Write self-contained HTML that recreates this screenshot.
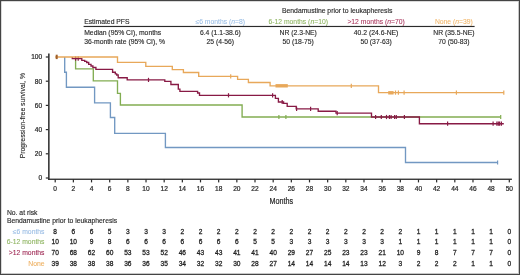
<!DOCTYPE html>
<html><head><meta charset="utf-8"><style>
html,body{margin:0;padding:0;background:#fff;}
body{width:520px;height:275px;overflow:hidden;position:relative;}
svg{position:absolute;left:0;top:0;font-family:"Liberation Sans",sans-serif;will-change:transform;}
svg{color:#2b2b2b;}
text{fill:currentColor;stroke:currentColor;stroke-width:0.14px;}
</style></head><body>
<svg width="520" height="275" viewBox="0 0 520 275">
<rect x="0" y="0" width="520" height="275" fill="#fff"/>
<text x="337.2" y="12.5" text-anchor="middle" font-size="6.8">Bendamustine prior to leukapheresis</text>
<text x="220.3" y="23.6" text-anchor="middle" font-size="6.8" style="color:#98bce4;stroke-width:0.06px">≤6 months (<tspan font-style="italic">n</tspan>=8)</text>
<text x="298.2" y="23.6" text-anchor="middle" font-size="6.8" style="color:#8cb35e;stroke-width:0.06px">6-12 months (<tspan font-style="italic">n</tspan>=10)</text>
<text x="376.1" y="23.6" text-anchor="middle" font-size="6.8" style="color:#a8325a;stroke-width:0.06px">&gt;12 months (<tspan font-style="italic">n</tspan>=70)</text>
<text x="453.9" y="23.6" text-anchor="middle" font-size="6.8" style="color:#f0b466;stroke-width:0.06px">None (<tspan font-style="italic">n</tspan>=39)</text>
<text x="84.2" y="23.6" font-size="6.8">Estimated PFS</text>
<rect x="83.6" y="25.9" width="391" height="1.15" fill="#2b2b2b"/>
<text x="84.2" y="35.3" font-size="6.8">Median (95% CI), months</text>
<text x="84.2" y="44.4" font-size="6.8">36-month rate (95% CI), %</text>
<text x="220.3" y="35.3" text-anchor="middle" font-size="6.8">6.4 (1.1-38.6)</text>
<text x="220.3" y="44.4" text-anchor="middle" font-size="6.8">25 (4-56)</text>
<text x="298.2" y="35.3" text-anchor="middle" font-size="6.8">NR (2.3-NE)</text>
<text x="298.2" y="44.4" text-anchor="middle" font-size="6.8">50 (18-75)</text>
<text x="376.1" y="35.3" text-anchor="middle" font-size="6.8">40.2 (24.6-NE)</text>
<text x="376.1" y="44.4" text-anchor="middle" font-size="6.8">50 (37-63)</text>
<text x="453.9" y="35.3" text-anchor="middle" font-size="6.8">NR (35.5-NE)</text>
<text x="453.9" y="44.4" text-anchor="middle" font-size="6.8">70 (50-83)</text>
<path d="M64.7,57.00 H64.70 V72.20 H66.40 V87.20 H94.60 V102.80 H110.40 V117.50 H114.70 V133.30 H165.40 V147.50 H405.50 V162.50 H497.6" fill="none" stroke="#7298c2" stroke-width="1.35"/>
<line x1="497.60" y1="160.40" x2="497.60" y2="164.60" stroke="#7298c2" stroke-width="1.2"/>
<path d="M75.6,57.00 H75.60 V68.80 H93.30 V80.80 H117.50 V93.30 H120.40 V105.00 H242.10 V117.00 H500.7" fill="none" stroke="#82ad52" stroke-width="1.35"/>
<line x1="278.90" y1="114.90" x2="278.90" y2="119.10" stroke="#82ad52" stroke-width="1.2"/>
<line x1="285.90" y1="114.90" x2="285.90" y2="119.10" stroke="#82ad52" stroke-width="1.2"/>
<line x1="500.70" y1="114.90" x2="500.70" y2="119.10" stroke="#82ad52" stroke-width="1.2"/>
<path d="M72.3,57.00 H72.30 V58.60 H81.80 V60.30 H84.70 V61.30 H86.70 V62.50 H88.70 V64.40 H91.00 V66.00 H92.90 V67.50 H95.90 V69.30 H112.60 V72.20 H115.30 V73.80 H116.70 V75.00 H118.20 V77.70 H127.20 V79.90 H164.80 V81.40 H170.90 V84.50 H178.30 V89.10 H179.90 V91.30 H197.60 V93.00 H199.50 V95.30 H275.40 V98.40 H278.40 V102.00 H283.60 V103.40 H287.20 V106.40 H296.20 V108.90 H318.20 V111.20 H336.00 V113.10 H371.50 V117.00 H419.40 V123.70 H503.8" fill="none" stroke="#881a45" stroke-width="1.35"/>
<line x1="75.60" y1="56.50" x2="75.60" y2="60.70" stroke="#881a45" stroke-width="1.2"/>
<line x1="78.20" y1="56.50" x2="78.20" y2="60.70" stroke="#881a45" stroke-width="1.2"/>
<line x1="148.50" y1="77.80" x2="148.50" y2="82.00" stroke="#881a45" stroke-width="1.2"/>
<line x1="228.50" y1="93.20" x2="228.50" y2="97.40" stroke="#881a45" stroke-width="1.2"/>
<line x1="272.60" y1="93.20" x2="272.60" y2="97.40" stroke="#881a45" stroke-width="1.2"/>
<line x1="282.20" y1="99.90" x2="282.20" y2="104.10" stroke="#881a45" stroke-width="1.2"/>
<line x1="296.60" y1="106.80" x2="296.60" y2="111.00" stroke="#881a45" stroke-width="1.2"/>
<line x1="310.60" y1="106.80" x2="310.60" y2="111.00" stroke="#881a45" stroke-width="1.2"/>
<line x1="337.20" y1="111.00" x2="337.20" y2="115.20" stroke="#881a45" stroke-width="1.2"/>
<line x1="375.60" y1="114.90" x2="375.60" y2="119.10" stroke="#881a45" stroke-width="1.2"/>
<line x1="381.30" y1="114.90" x2="381.30" y2="119.10" stroke="#881a45" stroke-width="1.2"/>
<line x1="386.50" y1="114.90" x2="386.50" y2="119.10" stroke="#881a45" stroke-width="1.2"/>
<line x1="389.40" y1="114.90" x2="389.40" y2="119.10" stroke="#881a45" stroke-width="1.2"/>
<line x1="391.10" y1="114.90" x2="391.10" y2="119.10" stroke="#881a45" stroke-width="1.2"/>
<line x1="394.60" y1="114.90" x2="394.60" y2="119.10" stroke="#881a45" stroke-width="1.2"/>
<line x1="396.30" y1="114.90" x2="396.30" y2="119.10" stroke="#881a45" stroke-width="1.2"/>
<line x1="404.40" y1="114.90" x2="404.40" y2="119.10" stroke="#881a45" stroke-width="1.2"/>
<line x1="447.60" y1="121.60" x2="447.60" y2="125.80" stroke="#881a45" stroke-width="1.2"/>
<line x1="493.10" y1="121.60" x2="493.10" y2="125.80" stroke="#881a45" stroke-width="1.2"/>
<line x1="496.90" y1="121.60" x2="496.90" y2="125.80" stroke="#881a45" stroke-width="1.2"/>
<line x1="498.30" y1="121.60" x2="498.30" y2="125.80" stroke="#881a45" stroke-width="1.2"/>
<line x1="499.60" y1="121.60" x2="499.60" y2="125.80" stroke="#881a45" stroke-width="1.2"/>
<line x1="501.40" y1="121.60" x2="501.40" y2="125.80" stroke="#881a45" stroke-width="1.2"/>
<path d="M55.2,57.00 H117.50 V62.30 H145.80 V66.40 H172.30 V69.60 H183.40 V72.50 H198.70 V76.40 H237.60 V79.30 H248.40 V82.50 H270.10 V85.80 H378.50 V92.60 H503.8" fill="none" stroke="#e8a85a" stroke-width="1.35"/>
<line x1="230.70" y1="74.30" x2="230.70" y2="78.50" stroke="#e8a85a" stroke-width="1.2"/>
<line x1="351.30" y1="83.70" x2="351.30" y2="87.90" stroke="#e8a85a" stroke-width="1.2"/>
<line x1="395.50" y1="90.50" x2="395.50" y2="94.70" stroke="#e8a85a" stroke-width="1.2"/>
<line x1="398.40" y1="90.50" x2="398.40" y2="94.70" stroke="#e8a85a" stroke-width="1.2"/>
<line x1="404.10" y1="90.50" x2="404.10" y2="94.70" stroke="#e8a85a" stroke-width="1.2"/>
<line x1="456.40" y1="90.50" x2="456.40" y2="94.70" stroke="#e8a85a" stroke-width="1.2"/>
<line x1="503.80" y1="90.50" x2="503.80" y2="94.70" stroke="#e8a85a" stroke-width="1.2"/>
<rect x="275.5" y="84.1" width="12.3" height="3.4" fill="#e8a85a"/>
<rect x="388.2" y="91.1" width="5.4" height="3.4" fill="#e8a85a"/>
<rect x="55.7" y="54.7" width="2" height="4.4" fill="#a0602a"/>
<rect x="48.1" y="53.5" width="1.5" height="126.4" fill="#2b2b2b"/>
<rect x="48.1" y="178.6" width="463.8" height="1.3" fill="#2b2b2b"/>
<rect x="45.8" y="177.40" width="2.5" height="1.2" fill="#2b2b2b"/>
<text x="42.2" y="180.40" text-anchor="end" font-size="6.6" style="stroke-width:0.22px">0</text>
<rect x="45.8" y="153.20" width="2.5" height="1.2" fill="#2b2b2b"/>
<text x="42.2" y="156.20" text-anchor="end" font-size="6.6" style="stroke-width:0.22px">20</text>
<rect x="45.8" y="129.00" width="2.5" height="1.2" fill="#2b2b2b"/>
<text x="42.2" y="132.00" text-anchor="end" font-size="6.6" style="stroke-width:0.22px">40</text>
<rect x="45.8" y="104.80" width="2.5" height="1.2" fill="#2b2b2b"/>
<text x="42.2" y="107.80" text-anchor="end" font-size="6.6" style="stroke-width:0.22px">60</text>
<rect x="45.8" y="80.60" width="2.5" height="1.2" fill="#2b2b2b"/>
<text x="42.2" y="83.60" text-anchor="end" font-size="6.6" style="stroke-width:0.22px">80</text>
<rect x="45.8" y="56.40" width="2.5" height="1.2" fill="#2b2b2b"/>
<text x="42.2" y="59.40" text-anchor="end" font-size="6.6" style="stroke-width:0.22px">100</text>
<rect x="54.60" y="179.4" width="1.2" height="3.0" fill="#2b2b2b"/>
<text x="55.20" y="190.9" text-anchor="middle" font-size="6.6" style="stroke-width:0.22px">0</text>
<rect x="72.76" y="179.4" width="1.2" height="3.0" fill="#2b2b2b"/>
<text x="73.36" y="190.9" text-anchor="middle" font-size="6.6" style="stroke-width:0.22px">2</text>
<rect x="90.93" y="179.4" width="1.2" height="3.0" fill="#2b2b2b"/>
<text x="91.53" y="190.9" text-anchor="middle" font-size="6.6" style="stroke-width:0.22px">4</text>
<rect x="109.09" y="179.4" width="1.2" height="3.0" fill="#2b2b2b"/>
<text x="109.69" y="190.9" text-anchor="middle" font-size="6.6" style="stroke-width:0.22px">6</text>
<rect x="127.26" y="179.4" width="1.2" height="3.0" fill="#2b2b2b"/>
<text x="127.86" y="190.9" text-anchor="middle" font-size="6.6" style="stroke-width:0.22px">8</text>
<rect x="145.42" y="179.4" width="1.2" height="3.0" fill="#2b2b2b"/>
<text x="146.02" y="190.9" text-anchor="middle" font-size="6.6" style="stroke-width:0.22px">10</text>
<rect x="163.58" y="179.4" width="1.2" height="3.0" fill="#2b2b2b"/>
<text x="164.18" y="190.9" text-anchor="middle" font-size="6.6" style="stroke-width:0.22px">12</text>
<rect x="181.75" y="179.4" width="1.2" height="3.0" fill="#2b2b2b"/>
<text x="182.35" y="190.9" text-anchor="middle" font-size="6.6" style="stroke-width:0.22px">14</text>
<rect x="199.91" y="179.4" width="1.2" height="3.0" fill="#2b2b2b"/>
<text x="200.51" y="190.9" text-anchor="middle" font-size="6.6" style="stroke-width:0.22px">16</text>
<rect x="218.08" y="179.4" width="1.2" height="3.0" fill="#2b2b2b"/>
<text x="218.68" y="190.9" text-anchor="middle" font-size="6.6" style="stroke-width:0.22px">18</text>
<rect x="236.24" y="179.4" width="1.2" height="3.0" fill="#2b2b2b"/>
<text x="236.84" y="190.9" text-anchor="middle" font-size="6.6" style="stroke-width:0.22px">20</text>
<rect x="254.40" y="179.4" width="1.2" height="3.0" fill="#2b2b2b"/>
<text x="255.00" y="190.9" text-anchor="middle" font-size="6.6" style="stroke-width:0.22px">22</text>
<rect x="272.57" y="179.4" width="1.2" height="3.0" fill="#2b2b2b"/>
<text x="273.17" y="190.9" text-anchor="middle" font-size="6.6" style="stroke-width:0.22px">24</text>
<rect x="290.73" y="179.4" width="1.2" height="3.0" fill="#2b2b2b"/>
<text x="291.33" y="190.9" text-anchor="middle" font-size="6.6" style="stroke-width:0.22px">26</text>
<rect x="308.90" y="179.4" width="1.2" height="3.0" fill="#2b2b2b"/>
<text x="309.50" y="190.9" text-anchor="middle" font-size="6.6" style="stroke-width:0.22px">28</text>
<rect x="327.06" y="179.4" width="1.2" height="3.0" fill="#2b2b2b"/>
<text x="327.66" y="190.9" text-anchor="middle" font-size="6.6" style="stroke-width:0.22px">30</text>
<rect x="345.22" y="179.4" width="1.2" height="3.0" fill="#2b2b2b"/>
<text x="345.82" y="190.9" text-anchor="middle" font-size="6.6" style="stroke-width:0.22px">32</text>
<rect x="363.39" y="179.4" width="1.2" height="3.0" fill="#2b2b2b"/>
<text x="363.99" y="190.9" text-anchor="middle" font-size="6.6" style="stroke-width:0.22px">34</text>
<rect x="381.55" y="179.4" width="1.2" height="3.0" fill="#2b2b2b"/>
<text x="382.15" y="190.9" text-anchor="middle" font-size="6.6" style="stroke-width:0.22px">36</text>
<rect x="399.72" y="179.4" width="1.2" height="3.0" fill="#2b2b2b"/>
<text x="400.32" y="190.9" text-anchor="middle" font-size="6.6" style="stroke-width:0.22px">38</text>
<rect x="417.88" y="179.4" width="1.2" height="3.0" fill="#2b2b2b"/>
<text x="418.48" y="190.9" text-anchor="middle" font-size="6.6" style="stroke-width:0.22px">40</text>
<rect x="436.04" y="179.4" width="1.2" height="3.0" fill="#2b2b2b"/>
<text x="436.64" y="190.9" text-anchor="middle" font-size="6.6" style="stroke-width:0.22px">42</text>
<rect x="454.21" y="179.4" width="1.2" height="3.0" fill="#2b2b2b"/>
<text x="454.81" y="190.9" text-anchor="middle" font-size="6.6" style="stroke-width:0.22px">44</text>
<rect x="472.37" y="179.4" width="1.2" height="3.0" fill="#2b2b2b"/>
<text x="472.97" y="190.9" text-anchor="middle" font-size="6.6" style="stroke-width:0.22px">46</text>
<rect x="490.54" y="179.4" width="1.2" height="3.0" fill="#2b2b2b"/>
<text x="491.14" y="190.9" text-anchor="middle" font-size="6.6" style="stroke-width:0.22px">48</text>
<rect x="508.70" y="179.4" width="1.2" height="3.0" fill="#2b2b2b"/>
<text x="509.30" y="190.9" text-anchor="middle" font-size="6.6" style="stroke-width:0.22px">50</text>
<text x="281.2" y="203.6" text-anchor="middle" font-size="8.4" textLength="23.6" lengthAdjust="spacingAndGlyphs" style="stroke-width:0.22px">Months</text>
<text transform="translate(25.1,115.6) rotate(-90)" text-anchor="middle" font-size="7.6" textLength="85.5" lengthAdjust="spacingAndGlyphs">Progression-free survival, %</text>
<text x="6.9" y="214.7" font-size="6.8">No. at risk</text>
<text x="6.9" y="223.0" font-size="6.8">Bendamustine prior to leukapheresis</text>
<text x="44.5" y="233.6" text-anchor="end" font-size="6.8" style="color:#98bce4;stroke-width:0.08px">≤6 months</text>
<text x="55.20" y="233.6" text-anchor="middle" font-size="6.6" style="stroke-width:0.26px;color:#1e1e1e">8</text>
<text x="73.36" y="233.6" text-anchor="middle" font-size="6.6" style="stroke-width:0.26px;color:#1e1e1e">6</text>
<text x="91.53" y="233.6" text-anchor="middle" font-size="6.6" style="stroke-width:0.26px;color:#1e1e1e">6</text>
<text x="109.69" y="233.6" text-anchor="middle" font-size="6.6" style="stroke-width:0.26px;color:#1e1e1e">5</text>
<text x="127.86" y="233.6" text-anchor="middle" font-size="6.6" style="stroke-width:0.26px;color:#1e1e1e">3</text>
<text x="146.02" y="233.6" text-anchor="middle" font-size="6.6" style="stroke-width:0.26px;color:#1e1e1e">3</text>
<text x="164.18" y="233.6" text-anchor="middle" font-size="6.6" style="stroke-width:0.26px;color:#1e1e1e">3</text>
<text x="182.35" y="233.6" text-anchor="middle" font-size="6.6" style="stroke-width:0.26px;color:#1e1e1e">2</text>
<text x="200.51" y="233.6" text-anchor="middle" font-size="6.6" style="stroke-width:0.26px;color:#1e1e1e">2</text>
<text x="218.68" y="233.6" text-anchor="middle" font-size="6.6" style="stroke-width:0.26px;color:#1e1e1e">2</text>
<text x="236.84" y="233.6" text-anchor="middle" font-size="6.6" style="stroke-width:0.26px;color:#1e1e1e">2</text>
<text x="255.00" y="233.6" text-anchor="middle" font-size="6.6" style="stroke-width:0.26px;color:#1e1e1e">2</text>
<text x="273.17" y="233.6" text-anchor="middle" font-size="6.6" style="stroke-width:0.26px;color:#1e1e1e">2</text>
<text x="291.33" y="233.6" text-anchor="middle" font-size="6.6" style="stroke-width:0.26px;color:#1e1e1e">2</text>
<text x="309.50" y="233.6" text-anchor="middle" font-size="6.6" style="stroke-width:0.26px;color:#1e1e1e">2</text>
<text x="327.66" y="233.6" text-anchor="middle" font-size="6.6" style="stroke-width:0.26px;color:#1e1e1e">2</text>
<text x="345.82" y="233.6" text-anchor="middle" font-size="6.6" style="stroke-width:0.26px;color:#1e1e1e">2</text>
<text x="363.99" y="233.6" text-anchor="middle" font-size="6.6" style="stroke-width:0.26px;color:#1e1e1e">2</text>
<text x="382.15" y="233.6" text-anchor="middle" font-size="6.6" style="stroke-width:0.26px;color:#1e1e1e">2</text>
<text x="400.32" y="233.6" text-anchor="middle" font-size="6.6" style="stroke-width:0.26px;color:#1e1e1e">2</text>
<text x="418.48" y="233.6" text-anchor="middle" font-size="6.6" style="stroke-width:0.26px;color:#1e1e1e">1</text>
<text x="436.64" y="233.6" text-anchor="middle" font-size="6.6" style="stroke-width:0.26px;color:#1e1e1e">1</text>
<text x="454.81" y="233.6" text-anchor="middle" font-size="6.6" style="stroke-width:0.26px;color:#1e1e1e">1</text>
<text x="472.97" y="233.6" text-anchor="middle" font-size="6.6" style="stroke-width:0.26px;color:#1e1e1e">1</text>
<text x="491.14" y="233.6" text-anchor="middle" font-size="6.6" style="stroke-width:0.26px;color:#1e1e1e">1</text>
<text x="509.30" y="233.6" text-anchor="middle" font-size="6.6" style="stroke-width:0.26px;color:#1e1e1e">0</text>
<text x="44.5" y="244.1" text-anchor="end" font-size="6.8" style="color:#8cb35e;stroke-width:0.08px">6-12 months</text>
<text x="55.20" y="244.1" text-anchor="middle" font-size="6.6" style="stroke-width:0.26px;color:#1e1e1e">10</text>
<text x="73.36" y="244.1" text-anchor="middle" font-size="6.6" style="stroke-width:0.26px;color:#1e1e1e">10</text>
<text x="91.53" y="244.1" text-anchor="middle" font-size="6.6" style="stroke-width:0.26px;color:#1e1e1e">9</text>
<text x="109.69" y="244.1" text-anchor="middle" font-size="6.6" style="stroke-width:0.26px;color:#1e1e1e">8</text>
<text x="127.86" y="244.1" text-anchor="middle" font-size="6.6" style="stroke-width:0.26px;color:#1e1e1e">6</text>
<text x="146.02" y="244.1" text-anchor="middle" font-size="6.6" style="stroke-width:0.26px;color:#1e1e1e">6</text>
<text x="164.18" y="244.1" text-anchor="middle" font-size="6.6" style="stroke-width:0.26px;color:#1e1e1e">6</text>
<text x="182.35" y="244.1" text-anchor="middle" font-size="6.6" style="stroke-width:0.26px;color:#1e1e1e">6</text>
<text x="200.51" y="244.1" text-anchor="middle" font-size="6.6" style="stroke-width:0.26px;color:#1e1e1e">6</text>
<text x="218.68" y="244.1" text-anchor="middle" font-size="6.6" style="stroke-width:0.26px;color:#1e1e1e">6</text>
<text x="236.84" y="244.1" text-anchor="middle" font-size="6.6" style="stroke-width:0.26px;color:#1e1e1e">6</text>
<text x="255.00" y="244.1" text-anchor="middle" font-size="6.6" style="stroke-width:0.26px;color:#1e1e1e">5</text>
<text x="273.17" y="244.1" text-anchor="middle" font-size="6.6" style="stroke-width:0.26px;color:#1e1e1e">5</text>
<text x="291.33" y="244.1" text-anchor="middle" font-size="6.6" style="stroke-width:0.26px;color:#1e1e1e">3</text>
<text x="309.50" y="244.1" text-anchor="middle" font-size="6.6" style="stroke-width:0.26px;color:#1e1e1e">3</text>
<text x="327.66" y="244.1" text-anchor="middle" font-size="6.6" style="stroke-width:0.26px;color:#1e1e1e">3</text>
<text x="345.82" y="244.1" text-anchor="middle" font-size="6.6" style="stroke-width:0.26px;color:#1e1e1e">3</text>
<text x="363.99" y="244.1" text-anchor="middle" font-size="6.6" style="stroke-width:0.26px;color:#1e1e1e">3</text>
<text x="382.15" y="244.1" text-anchor="middle" font-size="6.6" style="stroke-width:0.26px;color:#1e1e1e">3</text>
<text x="400.32" y="244.1" text-anchor="middle" font-size="6.6" style="stroke-width:0.26px;color:#1e1e1e">1</text>
<text x="418.48" y="244.1" text-anchor="middle" font-size="6.6" style="stroke-width:0.26px;color:#1e1e1e">1</text>
<text x="436.64" y="244.1" text-anchor="middle" font-size="6.6" style="stroke-width:0.26px;color:#1e1e1e">1</text>
<text x="454.81" y="244.1" text-anchor="middle" font-size="6.6" style="stroke-width:0.26px;color:#1e1e1e">1</text>
<text x="472.97" y="244.1" text-anchor="middle" font-size="6.6" style="stroke-width:0.26px;color:#1e1e1e">1</text>
<text x="491.14" y="244.1" text-anchor="middle" font-size="6.6" style="stroke-width:0.26px;color:#1e1e1e">1</text>
<text x="509.30" y="244.1" text-anchor="middle" font-size="6.6" style="stroke-width:0.26px;color:#1e1e1e">0</text>
<text x="44.5" y="254.8" text-anchor="end" font-size="6.8" style="color:#9c2450;stroke-width:0.08px">&gt;12 months</text>
<text x="55.20" y="254.8" text-anchor="middle" font-size="6.6" style="stroke-width:0.26px;color:#1e1e1e">70</text>
<text x="73.36" y="254.8" text-anchor="middle" font-size="6.6" style="stroke-width:0.26px;color:#1e1e1e">68</text>
<text x="91.53" y="254.8" text-anchor="middle" font-size="6.6" style="stroke-width:0.26px;color:#1e1e1e">62</text>
<text x="109.69" y="254.8" text-anchor="middle" font-size="6.6" style="stroke-width:0.26px;color:#1e1e1e">60</text>
<text x="127.86" y="254.8" text-anchor="middle" font-size="6.6" style="stroke-width:0.26px;color:#1e1e1e">53</text>
<text x="146.02" y="254.8" text-anchor="middle" font-size="6.6" style="stroke-width:0.26px;color:#1e1e1e">53</text>
<text x="164.18" y="254.8" text-anchor="middle" font-size="6.6" style="stroke-width:0.26px;color:#1e1e1e">52</text>
<text x="182.35" y="254.8" text-anchor="middle" font-size="6.6" style="stroke-width:0.26px;color:#1e1e1e">46</text>
<text x="200.51" y="254.8" text-anchor="middle" font-size="6.6" style="stroke-width:0.26px;color:#1e1e1e">43</text>
<text x="218.68" y="254.8" text-anchor="middle" font-size="6.6" style="stroke-width:0.26px;color:#1e1e1e">43</text>
<text x="236.84" y="254.8" text-anchor="middle" font-size="6.6" style="stroke-width:0.26px;color:#1e1e1e">41</text>
<text x="255.00" y="254.8" text-anchor="middle" font-size="6.6" style="stroke-width:0.26px;color:#1e1e1e">41</text>
<text x="273.17" y="254.8" text-anchor="middle" font-size="6.6" style="stroke-width:0.26px;color:#1e1e1e">40</text>
<text x="291.33" y="254.8" text-anchor="middle" font-size="6.6" style="stroke-width:0.26px;color:#1e1e1e">29</text>
<text x="309.50" y="254.8" text-anchor="middle" font-size="6.6" style="stroke-width:0.26px;color:#1e1e1e">27</text>
<text x="327.66" y="254.8" text-anchor="middle" font-size="6.6" style="stroke-width:0.26px;color:#1e1e1e">25</text>
<text x="345.82" y="254.8" text-anchor="middle" font-size="6.6" style="stroke-width:0.26px;color:#1e1e1e">23</text>
<text x="363.99" y="254.8" text-anchor="middle" font-size="6.6" style="stroke-width:0.26px;color:#1e1e1e">23</text>
<text x="382.15" y="254.8" text-anchor="middle" font-size="6.6" style="stroke-width:0.26px;color:#1e1e1e">21</text>
<text x="400.32" y="254.8" text-anchor="middle" font-size="6.6" style="stroke-width:0.26px;color:#1e1e1e">10</text>
<text x="418.48" y="254.8" text-anchor="middle" font-size="6.6" style="stroke-width:0.26px;color:#1e1e1e">9</text>
<text x="436.64" y="254.8" text-anchor="middle" font-size="6.6" style="stroke-width:0.26px;color:#1e1e1e">8</text>
<text x="454.81" y="254.8" text-anchor="middle" font-size="6.6" style="stroke-width:0.26px;color:#1e1e1e">7</text>
<text x="472.97" y="254.8" text-anchor="middle" font-size="6.6" style="stroke-width:0.26px;color:#1e1e1e">7</text>
<text x="491.14" y="254.8" text-anchor="middle" font-size="6.6" style="stroke-width:0.26px;color:#1e1e1e">7</text>
<text x="509.30" y="254.8" text-anchor="middle" font-size="6.6" style="stroke-width:0.26px;color:#1e1e1e">0</text>
<text x="44.5" y="265.7" text-anchor="end" font-size="6.8" style="color:#eeb060;stroke-width:0.08px">None</text>
<text x="55.20" y="265.7" text-anchor="middle" font-size="6.6" style="stroke-width:0.26px;color:#1e1e1e">39</text>
<text x="73.36" y="265.7" text-anchor="middle" font-size="6.6" style="stroke-width:0.26px;color:#1e1e1e">38</text>
<text x="91.53" y="265.7" text-anchor="middle" font-size="6.6" style="stroke-width:0.26px;color:#1e1e1e">38</text>
<text x="109.69" y="265.7" text-anchor="middle" font-size="6.6" style="stroke-width:0.26px;color:#1e1e1e">38</text>
<text x="127.86" y="265.7" text-anchor="middle" font-size="6.6" style="stroke-width:0.26px;color:#1e1e1e">36</text>
<text x="146.02" y="265.7" text-anchor="middle" font-size="6.6" style="stroke-width:0.26px;color:#1e1e1e">36</text>
<text x="164.18" y="265.7" text-anchor="middle" font-size="6.6" style="stroke-width:0.26px;color:#1e1e1e">35</text>
<text x="182.35" y="265.7" text-anchor="middle" font-size="6.6" style="stroke-width:0.26px;color:#1e1e1e">34</text>
<text x="200.51" y="265.7" text-anchor="middle" font-size="6.6" style="stroke-width:0.26px;color:#1e1e1e">32</text>
<text x="218.68" y="265.7" text-anchor="middle" font-size="6.6" style="stroke-width:0.26px;color:#1e1e1e">32</text>
<text x="236.84" y="265.7" text-anchor="middle" font-size="6.6" style="stroke-width:0.26px;color:#1e1e1e">30</text>
<text x="255.00" y="265.7" text-anchor="middle" font-size="6.6" style="stroke-width:0.26px;color:#1e1e1e">28</text>
<text x="273.17" y="265.7" text-anchor="middle" font-size="6.6" style="stroke-width:0.26px;color:#1e1e1e">27</text>
<text x="291.33" y="265.7" text-anchor="middle" font-size="6.6" style="stroke-width:0.26px;color:#1e1e1e">14</text>
<text x="309.50" y="265.7" text-anchor="middle" font-size="6.6" style="stroke-width:0.26px;color:#1e1e1e">14</text>
<text x="327.66" y="265.7" text-anchor="middle" font-size="6.6" style="stroke-width:0.26px;color:#1e1e1e">14</text>
<text x="345.82" y="265.7" text-anchor="middle" font-size="6.6" style="stroke-width:0.26px;color:#1e1e1e">14</text>
<text x="363.99" y="265.7" text-anchor="middle" font-size="6.6" style="stroke-width:0.26px;color:#1e1e1e">13</text>
<text x="382.15" y="265.7" text-anchor="middle" font-size="6.6" style="stroke-width:0.26px;color:#1e1e1e">12</text>
<text x="400.32" y="265.7" text-anchor="middle" font-size="6.6" style="stroke-width:0.26px;color:#1e1e1e">3</text>
<text x="418.48" y="265.7" text-anchor="middle" font-size="6.6" style="stroke-width:0.26px;color:#1e1e1e">2</text>
<text x="436.64" y="265.7" text-anchor="middle" font-size="6.6" style="stroke-width:0.26px;color:#1e1e1e">2</text>
<text x="454.81" y="265.7" text-anchor="middle" font-size="6.6" style="stroke-width:0.26px;color:#1e1e1e">2</text>
<text x="472.97" y="265.7" text-anchor="middle" font-size="6.6" style="stroke-width:0.26px;color:#1e1e1e">1</text>
<text x="491.14" y="265.7" text-anchor="middle" font-size="6.6" style="stroke-width:0.26px;color:#1e1e1e">1</text>
<text x="509.30" y="265.7" text-anchor="middle" font-size="6.6" style="stroke-width:0.26px;color:#1e1e1e">0</text>
<rect x="0.5" y="0.5" width="519" height="274" fill="none" stroke="#444" stroke-width="1"/>
<rect x="518" y="1" width="1" height="273" fill="#444" fill-opacity="0.3"/>
<rect x="1" y="273" width="517" height="1" fill="#444" fill-opacity="0.3"/>
<rect x="1" y="1" width="1" height="272" fill="#444" fill-opacity="0.2"/>
<rect x="1" y="1" width="517" height="1" fill="#444" fill-opacity="0.2"/>
</svg>
</body></html>
